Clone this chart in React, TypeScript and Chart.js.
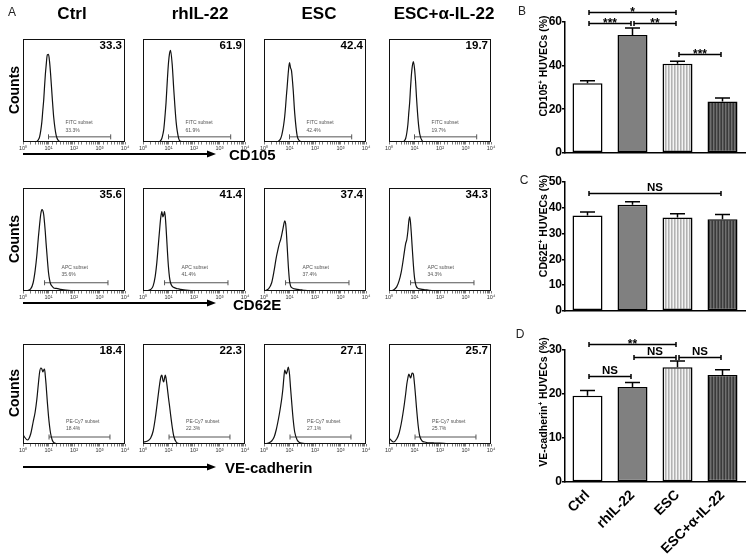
import React, { useEffect, useRef } from 'react';
import { Chart, registerables } from 'chart.js';

Chart.register(...registerables);

const FONT = '"Liberation Sans", Arial, Helvetica, sans-serif';

// ---------- data ----------
const groups = ['Ctrl', 'rhIL-22', 'ESC', 'ESC+α-IL-22'];
const markers = ['CD105', 'CD62E', 'VE-cadherin'];
const gateNames = ['FITC subset', 'APC subset', 'PE-Cy7 subset'];

// percent positive in the gate (rows: markers, columns: groups)
const pctCD105 = [33.3, 61.9, 42.4, 19.7];
const pctCD62E = [35.6, 41.4, 37.4, 34.3];
const pctVE = [18.4, 22.3, 27.1, 25.7];

// gate limits (fluorescence intensity)
const gateLow = [10, 7, 10.5];
const gateHigh = [2750, 2150, 2570];

// fluorescence channel values shared by all histograms
const channel = [1, 1.5, 2, 2.5, 3, 3.5, 4, 4.5, 5, 5.5, 6, 6.5, 7, 7.5, 8, 9, 10, 11, 12, 14, 16, 20, 25, 30, 40, 60, 100, 200, 500, 1000, 3000, 10000];

// counts (% of histogram height)
const cd105Ctrl = [0, 0, 0, 0, 0, 0.6, 2.2, 5.3, 11.6, 19.8, 31, 41, 54, 65, 73, 84.5, 85, 78, 67, 43, 24, 6.4, 1, 0.2, 0, 0, 0, 0, 0, 0, 0, 0];
const cd105RhIL = [0, 0, 0, 0, 0, 0, 0, 0.5, 1.5, 3.6, 7.4, 12, 20, 29, 38, 60, 77, 86, 89, 75, 52, 19, 3.6, 0.6, 0, 0, 0, 0, 0, 0, 0, 0];
const cd105ESC = [0, 0, 0, 0, 0, 0.5, 1.5, 3.5, 7, 12, 18, 25, 34, 44, 52, 68, 77, 72, 69, 50, 28, 6, 1, 0, 0, 0, 0, 0, 0, 0, 0, 0];
const cd105ESCa = [0, 0, 0, 0, 0, 0.2, 1.1, 3.4, 9, 17, 29, 39, 53, 64, 71.5, 78, 71.5, 59, 43, 20, 8, 1.1, 0.1, 0, 0, 0, 0, 0, 0, 0, 0, 0];

const cd62Ctrl = [0, 0.5, 2, 8, 20, 35, 52, 65, 75, 79, 78, 74, 66, 57, 47, 31, 18, 11, 7, 4.5, 3, 2.5, 2, 1.5, 1, 0.6, 0.3, 0.1, 0, 0, 0, 0];
const cd62RhIL = [0, 0.3, 1.5, 5, 14, 28, 45, 60, 72, 77, 72, 74, 77, 72, 62, 40, 23, 13, 8, 4.5, 3.5, 2.5, 2, 1.5, 1, 0.6, 0.3, 0.1, 0, 0, 0, 0];
const cd62ESC = [0, 2, 8, 20, 32, 40, 46, 50, 55, 60, 65, 68, 66, 58, 46, 24, 10, 5, 3.5, 2.5, 2, 1.5, 1.2, 1, 0.7, 0.4, 0.2, 0, 0, 0, 0, 0];
const cd62ESCa = [0, 1, 4, 10, 18, 28, 38, 46, 50, 58, 68, 72, 66, 56, 45, 26, 13, 7, 4, 2.5, 2, 1.5, 1.2, 1, 0.6, 0.3, 0.1, 0, 0, 0, 0, 0];

const veCtrl = [9, 4, 10, 22, 32, 45, 60, 72, 76, 75, 72, 74, 75, 68, 60, 42, 28, 18, 11, 4, 1.5, 0.5, 0.2, 0, 0, 0, 0, 0, 0, 0, 0, 0];
const veRhIL = [2, 3, 6, 13, 25, 38, 50, 60, 67, 69, 64, 62, 66, 69, 66, 56, 46, 38, 30, 17, 8, 2, 0.5, 0, 0, 0, 0, 0, 0, 0, 0, 0];
const veESC = [0, 1, 3, 7, 14, 22, 30, 38, 46, 55, 66, 74, 72, 70, 72, 77, 70, 56, 44, 24, 12, 4, 1.5, 0.8, 0.3, 0, 0, 0, 0, 0, 0, 0];
const veESCa = [6, 2, 5, 11, 20, 30, 40, 50, 60, 66, 70, 68, 66, 68, 71, 70, 60, 48, 36, 18, 8, 3, 2, 1.5, 1.2, 1, 0.8, 0.3, 0, 0, 0, 0];

// bar panels: mean and SEM
const meanB = [31.9, 54.0, 40.8, 23.5];
const errB = [1.1, 3.2, 1.2, 1.6];
const meanC = [37.0, 41.2, 36.2, 35.5];
const errC = [1.4, 1.1, 1.5, 1.9];
const meanD = [19.6, 21.6, 26.1, 24.3];
const errD = [1.2, 1.0, 1.4, 1.2];

// significance brackets: [from group, to group, height (y units), label]
const sigB: [number, number, number, string][] = [
  [0, 2, 64.8, '*'],
  [0, 1, 59.6, '***'],
  [1, 2, 59.6, '**'],
  [2, 3, 45.3, '***'],
];
const sigC: [number, number, number, string][] = [[0, 3, 45.6, 'NS']];
const sigD: [number, number, number, string][] = [
  [0, 2, 31.4, '**'],
  [0, 1, 24.0, 'NS'],
  [1, 2, 28.4, 'NS'],
  [2, 3, 28.4, 'NS'],
];

const ticksB = { max: 60, step: 20 };
const ticksC = { max: 50, step: 10 };
const ticksD = { max: 30, step: 10 };

// ---------- layout ----------
const BOX_LEFT = [23, 143, 264, 389];
const BOX_W = 102;
const BOX_TOP = [37, 186, 342];
const BOX_H = [105, 105, 102];
const GATE_Y = [5, 8, 7];
const NAME_Y = [19, 22.5, 22.5];
const PCT_Y = [11, 16, 15];

const SUP = ['⁰', '¹', '²', '³', '⁴'];

const histPlugin = {
  id: 'flowDecor',
  afterDatasetsDraw(chart: any, _args: any, opts: any) {
    const { ctx, chartArea: a, scales } = chart;
    ctx.save();
    ctx.strokeStyle = '#111';
    ctx.lineWidth = 1;
    ctx.strokeRect(a.left + 0.5, a.top + 0.5, a.right - a.left - 1, a.bottom - a.top - 1);
    ctx.fillStyle = '#000';
    ctx.font = `bold 11.5px ${FONT}`;
    ctx.textAlign = 'right';
    ctx.textBaseline = 'middle';
    ctx.fillText(opts.value.toFixed(1), a.right - 3, a.top + 6.5);
    const gx = scales.x.getPixelForValue(opts.gateLow) + 17;
    ctx.font = `5px ${FONT}`;
    ctx.fillStyle = '#555';
    ctx.textAlign = 'left';
    ctx.fillText(opts.gateName, gx, scales.y.getPixelForValue(opts.nameY));
    ctx.fillText(opts.value.toFixed(1) + '%', gx, scales.y.getPixelForValue(opts.pctY));
    ctx.restore();
  },
};

const barPlugin = {
  id: 'barExtras',
  afterDatasetsDraw(chart: any, _args: any, opts: any) {
    const { ctx, scales } = chart;
    const x = scales.x;
    const y = scales.y;
    const meta = chart.getDatasetMeta(0);
    const vals = chart.data.datasets[0].data;
    ctx.save();
    ctx.strokeStyle = '#000';
    ctx.lineWidth = 1.5;
    meta.data.forEach((bar: any, i: number) => {
      const top = y.getPixelForValue(vals[i] + opts.err[i]);
      ctx.beginPath();
      ctx.moveTo(bar.x, bar.y);
      ctx.lineTo(bar.x, top);
      ctx.moveTo(bar.x - 7.5, top);
      ctx.lineTo(bar.x + 7.5, top);
      ctx.stroke();
    });
    opts.sig.forEach((s: [number, number, number, string]) => {
      const [from, to, at, text] = s;
      const x1 = x.getPixelForValue(from) + 1.5;
      const x2 = x.getPixelForValue(to) - 1.5;
      const py = Math.round(y.getPixelForValue(at)) + 0.5;
      ctx.beginPath();
      ctx.moveTo(x1, py);
      ctx.lineTo(x2, py);
      ctx.moveTo(x1, py - 2.5);
      ctx.lineTo(x1, py + 2.5);
      ctx.moveTo(x2, py - 2.5);
      ctx.lineTo(x2, py + 2.5);
      ctx.stroke();
      const star = text.startsWith('*');
      ctx.fillStyle = '#000';
      ctx.textAlign = 'center';
      ctx.textBaseline = 'alphabetic';
      ctx.font = `bold ${star ? 12 : 11.5}px ${FONT}`;
      ctx.fillText(text, (x1 + x2) / 2, star ? py + 3 : py - 3);
    });
    ctx.restore();
  },
};

function stripes(colors: string[]) {
  const c = document.createElement('canvas');
  c.width = colors.length;
  c.height = 4;
  const g = c.getContext('2d')!;
  colors.forEach((col, i) => {
    g.fillStyle = col;
    g.fillRect(i, 0, 1, 4);
  });
  return g.createPattern(c, 'repeat')!;
}

function makeHist(canvas: HTMLCanvasElement, r: number, counts: number[], value: number) {
  return new Chart(canvas, {
    type: 'line',
    data: {
      datasets: [
        {
          data: channel.map((x, i) => ({ x, y: counts[i] })),
          borderColor: '#111',
          borderWidth: 1.2,
          pointRadius: 0,
          cubicInterpolationMode: 'monotone',
        } as any,
        {
          data: [
            { x: gateLow[r], y: GATE_Y[r] },
            { x: gateHigh[r], y: GATE_Y[r] },
          ],
          borderColor: '#555',
          borderWidth: 1,
          pointStyle: 'line',
          pointRotation: 90,
          pointRadius: 2.5,
          pointBorderWidth: 1,
          pointBorderColor: '#555',
        } as any,
      ],
    },
    options: {
      animation: false,
      responsive: false,
      maintainAspectRatio: false,
      layout: { padding: { left: 6, right: 6, top: 3, bottom: 0 } },
      plugins: {
        legend: { display: false },
        tooltip: { enabled: false },
        flowDecor: { value, gateLow: gateLow[r], gateName: gateNames[r], nameY: NAME_Y[r], pctY: PCT_Y[r] },
      } as any,
      scales: {
        x: {
          type: 'logarithmic',
          min: 1,
          max: 10000,
          border: { display: false },
          grid: { display: true, drawOnChartArea: false, drawTicks: true, tickLength: 2.5, color: '#444', lineWidth: 0.7 },
          ticks: {
            autoSkip: false,
            maxRotation: 0,
            minRotation: 0,
            padding: 0.5,
            color: '#333',
            font: { size: 5.5, family: FONT },
            callback: (v: any) => {
              const e = Math.log10(Number(v));
              const k = Math.round(e);
              return Math.abs(e - k) < 1e-9 ? '10' + SUP[k] : '';
            },
          },
          afterFit: (s: any) => {
            s.height = 12;
          },
        } as any,
        y: { min: 0, max: 100, display: false },
      },
    },
    plugins: [histPlugin as any],
  });
}

function makeBar(
  canvas: HTMLCanvasElement,
  means: number[],
  errs: number[],
  sig: [number, number, number, string][],
  tk: { max: number; step: number },
  padTop: number,
  xHeight: number,
  showX: boolean,
) {
  const fills = ['#ffffff', '#808080', stripes(['#f4f4f4', '#b2b2b2', '#cfcfcf']), stripes(['#3a3a3a', '#707070', '#525252'])];
  return new Chart(canvas, {
    type: 'bar',
    data: {
      labels: groups,
      datasets: [
        {
          data: means,
          backgroundColor: fills as any,
          borderColor: '#000',
          borderWidth: 1.5,
          borderSkipped: false,
          categoryPercentage: 1,
          barPercentage: 0.667,
        },
      ],
    },
    options: {
      animation: false,
      responsive: false,
      maintainAspectRatio: false,
      layout: { padding: { left: 0, right: 5, top: padTop, bottom: 0 } },
      plugins: {
        legend: { display: false },
        tooltip: { enabled: false },
        barExtras: { err: errs, sig },
      } as any,
      scales: {
        x: {
          grid: { display: false },
          border: { display: true, color: '#000', width: 1.5 },
          ticks: {
            display: showX,
            color: '#000',
            font: { size: 14, weight: 'bold', family: FONT },
            minRotation: 45,
            maxRotation: 45,
            padding: -3,
          },
          afterFit: (s: any) => {
            s.height = xHeight;
          },
        } as any,
        y: {
          min: 0,
          max: tk.max,
          border: { display: true, color: '#000', width: 1.5 },
          grid: { display: true, drawOnChartArea: false, drawTicks: true, tickLength: 3, color: '#000', lineWidth: 1.5 },
          ticks: {
            stepSize: tk.step,
            color: '#000',
            padding: 0,
            font: { size: 12, weight: 'bold', family: FONT },
          },
          afterFit: (s: any) => {
            s.width = 45;
          },
        } as any,
      },
    },
    plugins: [barPlugin as any],
  });
}

const histCounts = [
  [cd105Ctrl, cd105RhIL, cd105ESC, cd105ESCa],
  [cd62Ctrl, cd62RhIL, cd62ESC, cd62ESCa],
  [veCtrl, veRhIL, veESC, veESCa],
];
const histPct = [pctCD105, pctCD62E, pctVE];

const Txt = (p: { x: number; y: number; size: number; bold?: boolean; rot?: number; left?: boolean; color?: string; children: any }) => (
  <div
    style={{
      position: 'absolute',
      left: p.x,
      top: p.y,
      transform: `translate(${p.left ? '0' : '-50%'},-50%) rotate(${p.rot || 0}deg)`,
      fontSize: p.size,
      fontWeight: p.bold === false ? 'normal' : 'bold',
      whiteSpace: 'nowrap',
      lineHeight: 1,
      color: p.color || '#000',
    }}
  >
    {p.children}
  </div>
);

const Sup = () => <span style={{ fontSize: '0.6em', position: 'relative', top: '-0.6em' }}>+</span>;

export default function App() {
  const histRefs = useRef<(HTMLCanvasElement | null)[]>([]);
  const bRef = useRef<HTMLCanvasElement>(null);
  const cRef = useRef<HTMLCanvasElement>(null);
  const dRef = useRef<HTMLCanvasElement>(null);

  useEffect(() => {
    const charts: Chart[] = [];
    for (let r = 0; r < 3; r++) {
      for (let c = 0; c < 4; c++) {
        const cv = histRefs.current[r * 4 + c];
        if (cv) charts.push(makeHist(cv, r, histCounts[r][c], histPct[r][c]));
      }
    }
    if (bRef.current) charts.push(makeBar(bRef.current, meanB, errB, sigB, ticksB, 22, 5, false));
    if (cRef.current) charts.push(makeBar(cRef.current, meanC, errC, sigC, ticksC, 12, 5, false));
    if (dRef.current) charts.push(makeBar(dRef.current, meanD, errD, sigD, ticksD, 20, 75, true));
    return () => charts.forEach((ch) => ch.destroy());
  }, []);

  const headX = [72, 200, 319, 444];
  const arrowY = [154, 303, 467];
  const markerX = [229, 233, 225];
  const markerY = [154, 304, 467];

  return (
    <div
      style={{
        position: 'fixed',
        left: 0,
        top: 0,
        width: 750,
        height: 557,
        background: '#fff',
        fontFamily: FONT,
        overflow: 'hidden',
      }}
    >
      {BOX_TOP.map((t, r) =>
        BOX_LEFT.map((l, c) => (
          <canvas
            key={`${r}-${c}`}
            ref={(el) => {
              histRefs.current[r * 4 + c] = el;
            }}
            width={BOX_W + 12}
            height={BOX_H[r] + 15}
            style={{ position: 'absolute', left: l - 6, top: t - 3 }}
          />
        )),
      )}
      <canvas ref={bRef} width={230} height={160} style={{ position: 'absolute', left: 520, top: 0 }} />
      <canvas ref={cRef} width={230} height={148} style={{ position: 'absolute', left: 520, top: 170 }} />
      <canvas ref={dRef} width={230} height={227} style={{ position: 'absolute', left: 520, top: 330 }} />

      <svg width={750} height={557} style={{ position: 'absolute', left: 0, top: 0, pointerEvents: 'none' }}>
        {arrowY.map((y) => (
          <g key={y}>
            <line x1={23} y1={y} x2={209} y2={y} stroke="#000" strokeWidth={2} />
            <polygon points={`216,${y} 207,${y - 3.5} 207,${y + 3.5}`} fill="#000" />
          </g>
        ))}
      </svg>

      <Txt x={12} y={12} size={12} bold={false} color="#222">A</Txt>
      <Txt x={522} y={11} size={12} bold={false} color="#222">B</Txt>
      <Txt x={524} y={180} size={12} bold={false} color="#222">C</Txt>
      <Txt x={520} y={334} size={12} bold={false} color="#222">D</Txt>

      {groups.map((g, i) => (
        <Txt key={g} x={headX[i]} y={12.5} size={17}>{g}</Txt>
      ))}
      {BOX_TOP.map((t, r) => (
        <Txt key={'cnt' + r} x={13.5} y={t + BOX_H[r] / 2} size={14} rot={-90}>Counts</Txt>
      ))}
      {markers.map((m, r) => (
        <Txt key={m} x={markerX[r]} y={markerY[r]} size={15} left>{m}</Txt>
      ))}

      <Txt x={543} y={66} size={10.5} rot={-90}>CD105<Sup /> HUVECs (%)</Txt>
      <Txt x={543} y={226} size={10.5} rot={-90}>CD62E<Sup /> HUVECs (%)</Txt>
      <Txt x={543} y={402} size={10.5} rot={-90}>VE-cadherin<Sup /> HUVECs (%)</Txt>
    </div>
  );
}
